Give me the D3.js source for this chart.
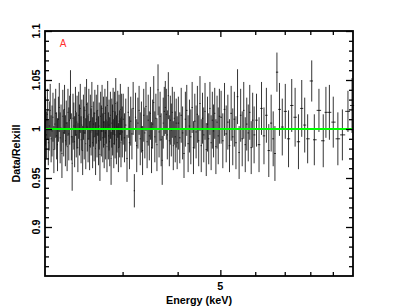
<!DOCTYPE html>
<html lang="en">
  <head>
    <meta charset="UTF-8" />
    <title>Data/Relxill ratio</title>
    <script src="https://d3js.org/d3.v7.min.js"></script>
    <style>
      html,
      body {
        margin: 0;
        padding: 0;
        background-color: #fff;
        font-family: "Liberation Sans", Arial, sans-serif;
      }
      .lbl {
        font-size: 10.8px;
        font-weight: bold;
        fill: #000;
      }
    </style>
  </head>
  <body>
    <svg id="chart"></svg>
    <script>
      // bin centres (keV)
      const energyKeV = [
        // 2-3 keV
        2.005, 2.015, 2.025, 2.035, 2.045, 2.055, 2.065, 2.075, 2.085, 2.095,
        2.105, 2.115, 2.125, 2.135, 2.145, 2.155, 2.165, 2.175, 2.185, 2.195,
        2.205, 2.215, 2.225, 2.235, 2.245, 2.255, 2.265, 2.275, 2.285, 2.295,
        2.305, 2.315, 2.325, 2.335, 2.345, 2.355, 2.365, 2.375, 2.385, 2.395,
        2.405, 2.415, 2.425, 2.435, 2.445, 2.455, 2.465, 2.475, 2.485, 2.495,
        2.505, 2.515, 2.525, 2.535, 2.545, 2.555, 2.565, 2.575, 2.585, 2.595,
        2.605, 2.615, 2.625, 2.635, 2.645, 2.655, 2.665, 2.675, 2.685, 2.695,
        2.705, 2.715, 2.725, 2.735, 2.745, 2.755, 2.765, 2.775, 2.785, 2.795,
        2.805, 2.815, 2.825, 2.835, 2.845, 2.855, 2.865, 2.875, 2.885, 2.895,
        2.905, 2.915, 2.925, 2.935, 2.945, 2.955, 2.965, 2.975, 2.985, 2.995,
        // 3-4 keV
        3.01, 3.03, 3.05, 3.07, 3.09, 3.11, 3.13, 3.15, 3.17, 3.19,
        3.21, 3.23, 3.25, 3.27, 3.29, 3.31, 3.33, 3.35, 3.37, 3.39,
        3.41, 3.43, 3.45, 3.47, 3.49, 3.51, 3.53, 3.55, 3.57, 3.59,
        3.61, 3.63, 3.65, 3.67, 3.69, 3.71, 3.73, 3.75, 3.77, 3.79,
        3.81, 3.83, 3.85, 3.87, 3.89, 3.91, 3.93, 3.95, 3.97, 3.99,
        // 4-5 keV
        4.015, 4.045, 4.075, 4.105, 4.135, 4.165, 4.195, 4.225, 4.255, 4.285,
        4.315, 4.345, 4.375, 4.405, 4.435, 4.465, 4.495, 4.525, 4.555, 4.585,
        4.615, 4.645, 4.675, 4.705, 4.735, 4.765, 4.795, 4.825, 4.855, 4.885,
        4.915, 4.945, 4.975,
        // 5-6 keV
        5.02, 5.065, 5.11, 5.155, 5.2, 5.245, 5.29, 5.335, 5.38, 5.425,
        5.47, 5.515, 5.56, 5.605, 5.65, 5.695, 5.74, 5.785, 5.83, 5.875,
        5.92, 5.965,
        // 6-10 keV
        6.04, 6.12, 6.2, 6.28, 6.36, 6.44, 6.52, 6.59, 6.65, 6.72, 6.81, 6.91,
        7.02, 7.14, 7.26, 7.39, 7.52, 7.65, 7.77,
        7.89, 8.06, 8.17, 8.37, 8.56, 8.68, 8.84, 9.02, 9.24, 9.46, 9.74, 9.95,
      ];

      // data / model ratio
      const ratio = [
        1.008, 0.994, 1.015, 0.986, 1.003, 1.019, 0.99, 0.998, 1.012, 0.979,
        1.005, 1.016, 0.993, 0.984, 1.01, 1.022, 0.991, 1.001, 0.975, 1.013,
        0.996, 1.02, 0.988, 1.006, 0.982, 1.017, 0.995, 1.009, 1.035, 0.992,
        0.965, 1.011, 1.003, 0.987, 1.018, 0.994, 1.007, 0.981, 1.014, 0.999,
        1.021, 0.989, 1.004, 0.978, 1.012, 0.996, 1.019, 0.985, 1.025, 1.002,
        0.99, 1.015, 0.983, 1.008, 0.997, 1.023, 0.986, 1.005, 0.992, 1.016,
        0.98, 1.01, 0.995, 1.019, 0.988, 1.003, 0.974, 1.013, 0.998, 1.021,
        0.991, 1.007, 0.984, 1.016, 0.996, 1.009, 0.982, 1.024, 0.993, 1.004,
        0.987, 1.014, 0.97, 1.006, 0.999, 1.018, 0.985, 1.011, 0.994, 1.026,
        0.989, 1.002, 1.015, 0.981, 1.008, 0.995, 1.02, 0.986, 1.012, 0.997,

        1.01, 0.991, 1.004, 0.97, 1.017, 0.986, 1.008, 0.995, 1.021, 0.937,
        1.012, 0.983, 1.006, 1.019, 0.99, 1.002, 0.978, 1.014, 0.996, 1.023,
        0.987, 1.009, 0.993, 1.016, 0.981, 1.005, 1.027, 0.992, 1.011, 0.984,
        1.04, 0.997, 1.013, 0.989, 0.968, 1.006, 1.018, 1.022, 1.015, 0.994,
        1.034, 0.988, 1.009, 0.999, 1.017, 0.983, 1.011, 0.992, 1.006, 0.986,

        1.006, 0.991, 1.014, 0.996, 0.975, 1.01, 1.019, 0.985, 1.003, 0.992,
        1.022, 0.981, 1.008, 0.997, 1.015, 0.988, 1.026, 0.983, 1.011, 0.994,
        1.018, 0.979, 1.005, 0.99, 1.021, 0.986, 1.009, 0.998, 1.016, 0.982,
        1.007, 0.993, 1.013,

        1.012, 0.988, 1.02, 0.995, 1.007, 0.983, 1.016, 0.992, 1.01, 0.986,
        1.033, 0.976, 1.014, 0.99, 1.019, 0.984, 1.005, 0.996, 1.017, 0.981,
        1.009, 0.994,

        1.009, 0.984, 1.021, 0.993, 1.014, 0.978, 1.006, 0.99, 0.975, 1.058, 1.02, 1.002,
        1.018, 0.99, 1.024, 1.012, 0.987, 1.021, 1.004,
        0.99, 1.049, 0.989, 1.019, 0.988, 1.017, 1.017, 1.007, 0.99, 0.994, 1.018, 1.024,
      ];

      // 1-sigma errors on the ratio
      const ratioErr = [
        0.025, 0.024, 0.026, 0.023, 0.025, 0.027, 0.024, 0.026, 0.025, 0.024,
        0.026, 0.025, 0.024, 0.027, 0.023, 0.025, 0.026, 0.024, 0.025, 0.027,
        0.024, 0.025, 0.026, 0.023, 0.025, 0.024, 0.027, 0.025, 0.025, 0.024,
        0.028, 0.025, 0.024, 0.026, 0.025, 0.023, 0.027, 0.025, 0.024, 0.026,
        0.025, 0.024, 0.026, 0.025, 0.023, 0.027, 0.024, 0.026, 0.026, 0.025,
        0.024, 0.026, 0.025, 0.027, 0.024, 0.025, 0.026, 0.023, 0.025, 0.024,
        0.027, 0.025, 0.024, 0.026, 0.025, 0.024, 0.027, 0.025, 0.026, 0.024,
        0.025, 0.026, 0.024, 0.025, 0.027, 0.024, 0.026, 0.025, 0.024, 0.026,
        0.025, 0.024, 0.027, 0.025, 0.026, 0.024, 0.025, 0.027, 0.024, 0.026,
        0.025, 0.026, 0.024, 0.025, 0.027, 0.024, 0.026, 0.025, 0.024, 0.026,

        0.026, 0.025, 0.027, 0.024, 0.026, 0.027, 0.025, 0.026, 0.027, 0.017,
        0.025, 0.027, 0.026, 0.025, 0.027, 0.026, 0.025, 0.027, 0.026, 0.025,
        0.027, 0.026, 0.025, 0.027, 0.026, 0.025, 0.027, 0.026, 0.025, 0.027,
        0.026, 0.026, 0.025, 0.027, 0.025, 0.026, 0.025, 0.027, 0.026, 0.025,
        0.024, 0.026, 0.025, 0.027, 0.026, 0.025, 0.027, 0.026, 0.025, 0.027,

        0.027, 0.026, 0.028, 0.027, 0.025, 0.028, 0.026, 0.029, 0.027, 0.028,
        0.026, 0.027, 0.028, 0.027, 0.029, 0.026, 0.028, 0.027, 0.026, 0.028,
        0.029, 0.027, 0.028, 0.026, 0.027, 0.028, 0.029, 0.027, 0.026, 0.028,
        0.027, 0.029, 0.028,

        0.027, 0.028, 0.027, 0.029, 0.028, 0.027, 0.028, 0.029, 0.028, 0.027,
        0.028, 0.027, 0.027, 0.028, 0.029, 0.028, 0.027, 0.029, 0.028, 0.027,
        0.028, 0.029,

        0.027, 0.028, 0.027, 0.029, 0.028, 0.027, 0.029, 0.028, 0.028, 0.02, 0.027, 0.029,
        0.028, 0.029, 0.027, 0.03, 0.028, 0.029, 0.028,
        0.025, 0.021, 0.026, 0.022, 0.027, 0.026, 0.028, 0.026, 0.027, 0.026, 0.021, 0.028,
      ];

      const yMajor = [0.9, 0.95, 1, 1.05, 1.1];
      const yMinor = [0.86, 0.87, 0.88, 0.89, 0.91, 0.92, 0.93, 0.94, 0.96, 0.97, 0.98, 0.99,
        1.01, 1.02, 1.03, 1.04, 1.06, 1.07, 1.08, 1.09];
      const xMajor = [5];
      const xMinor = [3, 4, 6, 7, 8, 9];

      const W = 399, H = 308;
      const box = { left: 45, right: 353, top: 31, bottom: 276 };

      const svg = d3.select("#chart").attr("width", W).attr("height", H);

      const x = d3.scaleLog().domain([2, 10]).range([box.left, box.right]);
      const y = d3.scaleLinear().domain([0.85, 1.1]).range([box.bottom, box.top]);

      // build the bins (edges half way to the neighbours)
      const bins = energyKeV.map((e, i) => {
        const prev = i > 0 ? energyKeV[i - 1] : e - (energyKeV[1] - energyKeV[0]);
        const next = i < energyKeV.length - 1 ? energyKeV[i + 1] : e + (e - energyKeV[i - 1]);
        return { e: e, lo: (e + prev) / 2, hi: (e + next) / 2, r: ratio[i], err: ratioErr[i] };
      });

      const pts = svg.append("g").attr("stroke", "#000").attr("stroke-width", 0.8);

      // vertical error bars
      pts.selectAll(".ebar")
        .data(bins)
        .enter()
        .append("line")
        .attr("class", "ebar")
        .attr("x1", (d) => x(d.e))
        .attr("x2", (d) => x(d.e))
        .attr("y1", (d) => y(d.r - d.err))
        .attr("y2", (d) => y(d.r + d.err));

      // bin width bars
      pts.selectAll(".wbar")
        .data(bins)
        .enter()
        .append("line")
        .attr("class", "wbar")
        .attr("x1", (d) => x(d.lo))
        .attr("x2", (d) => x(d.hi))
        .attr("y1", (d) => y(d.r))
        .attr("y2", (d) => y(d.r));

      // model = 1
      svg.append("line")
        .attr("x1", x(2)).attr("x2", x(10))
        .attr("y1", y(1)).attr("y2", y(1))
        .attr("stroke", "#00ff00")
        .attr("stroke-width", 2);

      // ticks on all four sides, pointing in
      function ticks(axis, vals, size, transform) {
        const g = svg.append("g")
          .attr("transform", transform)
          .call(axis.tickValues(vals).tickSize(-size).tickFormat(""));
        g.select(".domain").remove();
        g.selectAll("line").attr("stroke", "#000").attr("stroke-width", 1.3);
      }
      ticks(d3.axisLeft(y), yMajor, 7, `translate(${box.left},0)`);
      ticks(d3.axisLeft(y), yMinor, 4, `translate(${box.left},0)`);
      ticks(d3.axisRight(y), yMajor, 7, `translate(${box.right},0)`);
      ticks(d3.axisRight(y), yMinor, 4, `translate(${box.right},0)`);
      ticks(d3.axisBottom(x), xMajor, 6, `translate(0,${box.bottom})`);
      ticks(d3.axisBottom(x), xMinor, 4, `translate(0,${box.bottom})`);
      ticks(d3.axisTop(x), xMajor, 6, `translate(0,${box.top})`);
      ticks(d3.axisTop(x), xMinor, 4, `translate(0,${box.top})`);

      // frame
      svg.append("rect")
        .attr("x", box.left).attr("y", box.top)
        .attr("width", box.right - box.left).attr("height", box.bottom - box.top)
        .attr("fill", "none")
        .attr("stroke", "#000")
        .attr("stroke-width", 1.8);

      // y tick labels (rotated)
      svg.selectAll(".ylab")
        .data(yMajor)
        .enter()
        .append("text")
        .attr("class", "lbl")
        .attr("text-anchor", "middle")
        .attr("transform", (d) => `translate(40,${y(d)}) rotate(-90)`)
        .text((d) => d3.format("")(d));

      // x tick labels
      svg.selectAll(".xlab")
        .data(xMajor)
        .enter()
        .append("text")
        .attr("class", "lbl")
        .attr("text-anchor", "middle")
        .attr("x", (d) => x(d))
        .attr("y", 290)
        .text((d) => d);

      svg.append("text")
        .attr("class", "lbl")
        .attr("text-anchor", "middle")
        .attr("x", (box.left + box.right) / 2)
        .attr("y", 304)
        .text("Energy (keV)");

      svg.append("text")
        .attr("class", "lbl")
        .attr("text-anchor", "middle")
        .attr("transform", `translate(20,${(box.top + box.bottom) / 2}) rotate(-90)`)
        .text("Data/Relxill");

      svg.append("text")
        .attr("x", 63)
        .attr("y", 47)
        .attr("text-anchor", "middle")
        .attr("fill", "#ff3030")
        .style("font-size", "10px")
        .text("A");
    </script>
  </body>
</html>
